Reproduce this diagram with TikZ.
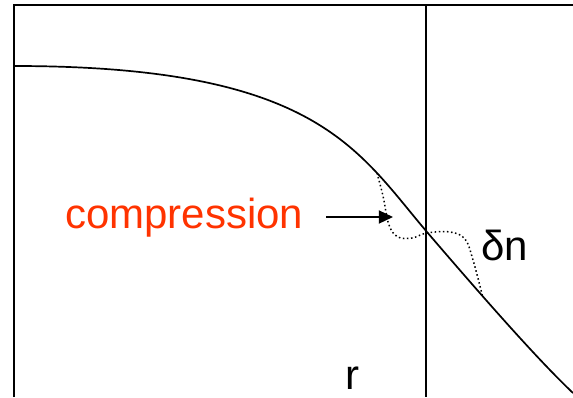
\documentclass[tikz,border=0pt]{standalone}
\usepackage{fontspec}
\setmainfont{Liberation Sans}
\usepackage{xcolor}
\usepackage{tikz}
\usetikzlibrary{arrows.meta, positioning}
\definecolor{figred}{RGB}{255,51,0}
\tikzstyle{frame} = [line width=1.8pt, draw=black]
\tikzstyle{profile} = [line width=1.7pt, draw=black]
\tikzstyle{perturb} = [line width=1.5pt, draw=black, dash pattern=on 1.5pt off 2.6pt]
\tikzstyle{bigtext} = [inner sep=0pt, anchor=base west, font=\fontsize{42}{48}\selectfont]
\tikzstyle{arrow} = [-{Triangle[length=5mm, width=4.6mm]}, line width=1.7pt, draw=black]

\begin{document}
\begin{tikzpicture}[x=1pt, y=-1pt]
    \useasboundingbox (0,0) rectangle (573,397);

    % frame and radius marker
    \draw[frame] (14,397) -- (14,5) -- (573,5);
    \draw[frame] (426,5) -- (426,397);

    % unperturbed density profile
    \draw[profile] (14,66) .. controls (317,66) and (357,150) .. (427,232)
        .. controls (475,288) and (535,357) .. (573,393);

    % perturbed profile
    \draw[perturb] plot[smooth, tension=0.6] coordinates
        {(377,173) (383,196) (389,225) (398,237) (412,238) (427,233)
         (450,232) (465,239) (473,260) (483,298)};

    % labels
    \node (comp) [bigtext, text=figred] at (65,228) {compression};
    \node (dn)   [bigtext] at (481,260) {δn};
    \node (r)    [bigtext] at (345,389) {r};

    \coordinate (tail) at (326,217);
    \coordinate (tip)  at (393,217);
    \draw[arrow] (tail) -- (tip);
\end{tikzpicture}
\end{document}
